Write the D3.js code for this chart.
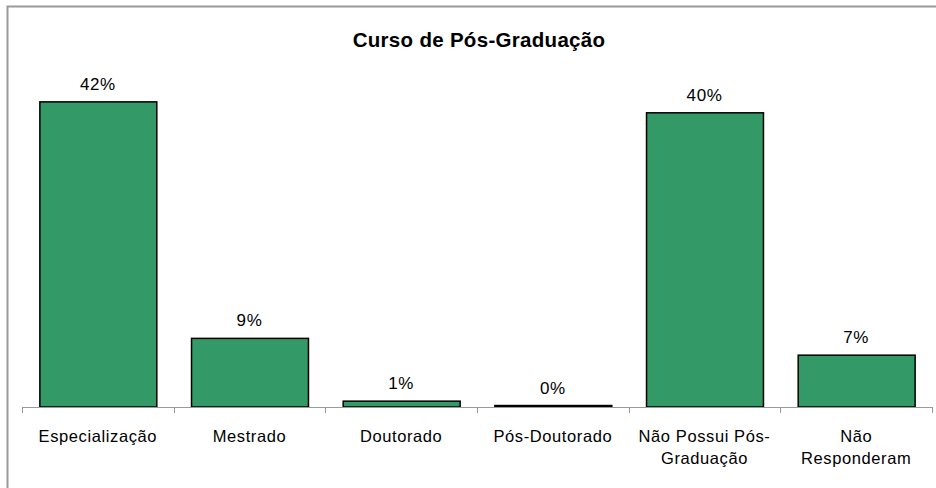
<html><head>
<script src="https://cdnjs.cloudflare.com/ajax/libs/d3/7.8.5/d3.min.js"></script>
<style>
  body { margin: 0; background: #fff; font-family: "Liberation Sans", Arial, sans-serif; }
  svg { display: block; }
</style>
</head>
<body>
<svg id="chart" width="936" height="488"></svg>
<script>
// data
const categories = ["Especialização", "Mestrado", "Doutorado", "Pós-Doutorado", "Não Possui Pós-Graduação", "Não Responderam"];
const tickLabels = [["Especialização"], ["Mestrado"], ["Doutorado"], ["Pós-Doutorado"], ["Não Possui Pós-", "Graduação"], ["Não", "Responderam"]];
const percents = [41.8, 9.4, 0.8, 0.2, 40.3, 7.1];
const title = "Curso de Pós-Graduação";

const svg = d3.select("#chart");
const W = 936, H = 488;
const left = 22, right = 932, baseY = 407;

// frame (top + left edges visible)
svg.append("path")
  .attr("d", `M7.5,${H} V6.5 H${W}`)
  .attr("fill", "none")
  .attr("stroke", "#999")
  .attr("stroke-width", 2);

svg.append("text")
  .attr("x", 479).attr("y", 47)
  .attr("text-anchor", "middle")
  .attr("font-size", 20.5).attr("font-weight", "bold")
  .attr("letter-spacing", 0.3)
  .text(title);

const x = d3.scaleBand()
  .domain(categories)
  .range([left, right])
  .paddingInner(0.229)
  .paddingOuter(0.1145);

const y = d3.scaleLinear()
  .domain([0, 45])
  .range([baseY, baseY - 45 * 7.3]);

const fmt = v => d3.format(".0f")(v) + "%";

// bars
svg.selectAll("rect.bar")
  .data(categories)
  .join("rect")
  .attr("class", "bar")
  .attr("x", d => x(d) + 0.5)
  .attr("y", (d, i) => y(percents[i]))
  .attr("width", x.bandwidth())
  .attr("height", (d, i) => Math.max(0.5, y(0) - y(percents[i])))
  .attr("fill", "#339966")
  .attr("stroke", "#000")
  .attr("stroke-width", 1.5);

// value labels
svg.selectAll("text.val")
  .data(categories)
  .join("text")
  .attr("class", "val")
  .attr("x", d => x(d) + x.bandwidth() / 2)
  .attr("y", (d, i) => y(percents[i]) - 12)
  .attr("text-anchor", "middle")
  .attr("font-size", 17)
  .attr("letter-spacing", 0.6)
  .text((d, i) => fmt(percents[i]));

// axis line + ticks between categories
const step = x.step();
const tickPos = d3.range(categories.length + 1).map(i => left + i * step);
svg.append("line")
  .attr("x1", left).attr("x2", right)
  .attr("y1", baseY + 0.5).attr("y2", baseY + 0.5)
  .attr("stroke", "#999");
svg.selectAll("line.tick")
  .data(tickPos)
  .join("line")
  .attr("class", "tick")
  .attr("x1", d => Math.round(d) + 0.5).attr("x2", d => Math.round(d) + 0.5)
  .attr("y1", baseY).attr("y2", baseY + 6)
  .attr("stroke", "#999");

// category labels
const lab = svg.selectAll("text.cat")
  .data(categories)
  .join("text")
  .attr("class", "cat")
  .attr("text-anchor", "middle")
  .attr("font-size", 16.5)
  .attr("letter-spacing", 0.6)
  .attr("fill", "#000");
lab.each(function(d, i) {
  d3.select(this).selectAll("tspan")
    .data(tickLabels[i])
    .join("tspan")
    .attr("x", x(d) + x.bandwidth() / 2)
    .attr("y", (t, j) => 442 + j * 21.5)
    .text(t => t);
});
</script>
</body></html>
